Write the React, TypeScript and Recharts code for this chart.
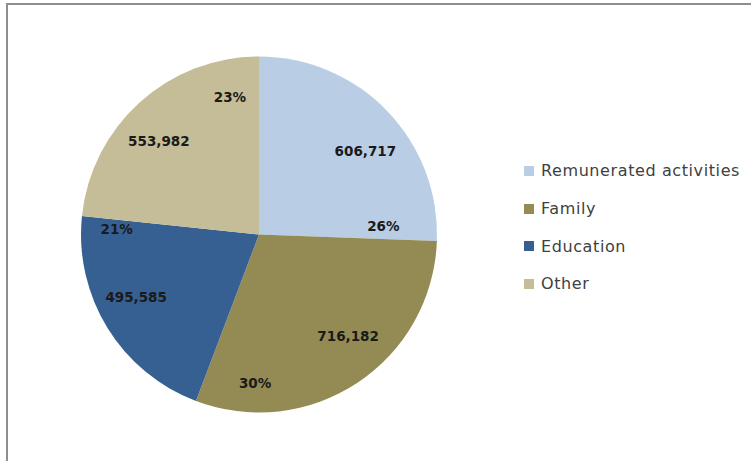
import React from "react";
import { PieChart, Pie, Cell, Legend } from "recharts";

const categories = ["Remunerated activities", "Family", "Education", "Other"];
const values = [606717, 716182, 495585, 553982];
const COLORS = ["#B9CDE5", "#948A54", "#376092", "#C4BD97"];

// where Excel dropped the two labels of each slice: angle offset from the
// slice middle (degrees) and radius as a fraction of the pie radius
const VALUE_LABEL_POS = [
  { da: -5.8, r: 0.76 },
  { da: 7.6, r: 0.76 },
  { da: -4.6, r: 0.775 },
  { da: 4.9, r: 0.77 },
];
const PCT_LABEL_POS = [
  { da: -40.1, r: 0.7 },
  { da: -35.1, r: 0.835 },
  { da: -33.9, r: 0.8 },
  { da: -30.1, r: 0.79 },
];

const data = categories.map((name, i) => ({ name, value: values[i] }));

const RAD = Math.PI / 180;
const labelFont = "'DejaVu Sans', sans-serif";

const renderLabel = (props: any) => {
  const { cx, cy, midAngle, outerRadius, index, value, percent } = props;
  const v = VALUE_LABEL_POS[index];
  const p = PCT_LABEL_POS[index];
  const va = midAngle + v.da;
  const pa = midAngle + p.da;
  const vx = cx + outerRadius * v.r * Math.cos(-va * RAD);
  const vy = cy + outerRadius * v.r * Math.sin(-va * RAD);
  const px = cx + outerRadius * p.r * Math.cos(-pa * RAD);
  const py = cy + outerRadius * p.r * Math.sin(-pa * RAD);
  return (
    <g>
      <text
        x={vx}
        y={vy}
        textAnchor="middle"
        dominantBaseline="central"
        fill="#1a1a1a"
        fontFamily={labelFont}
        fontWeight="bold"
        fontSize={13.5}
      >
        {value.toLocaleString("en-US")}
      </text>
      <text
        x={px}
        y={py}
        textAnchor="middle"
        dominantBaseline="central"
        fill="#1a1a1a"
        fontFamily={labelFont}
        fontWeight="bold"
        fontSize={13.5}
      >
        {Math.round(percent * 100)}%
      </text>
    </g>
  );
};

const renderLegend = () => (
  <div>
    {categories.map((name, i) => (
      <div
        key={name}
        style={{
          display: "flex",
          alignItems: "center",
          height: 37.7,
          fontFamily: "'DejaVu Sans', sans-serif",
          fontSize: 16,
          letterSpacing: 0.6,
          color: "#404040",
          whiteSpace: "nowrap",
        }}
      >
        <span
          style={{
            display: "inline-block",
            width: 10,
            height: 10,
            background: COLORS[i],
            marginRight: 7,
          }}
        />
        {name}
      </div>
    ))}
  </div>
);

export default function App() {
  return (
    <div
      style={{
        position: "absolute",
        left: 0,
        top: 0,
        width: 751,
        height: 461,
        background: "#fff",
      }}
    >
      <div
        style={{
          position: "absolute",
          left: 6,
          top: 3,
          width: 745,
          height: 458,
          borderTop: "2px solid #8e8e8e",
          borderLeft: "2px solid #8e8e8e",
        }}
      />
      <PieChart
        width={751}
        height={461}
        margin={{ top: 0, right: 0, bottom: 0, left: 0 }}
        style={{ position: "absolute", left: 0, top: 0 }}
      >
        <Pie
          data={data}
          dataKey="value"
          nameKey="name"
          cx={259}
          cy={234.5}
          outerRadius={178}
          startAngle={90}
          endAngle={-270}
          stroke="none"
          label={renderLabel}
          labelLine={false}
          isAnimationActive={false}
        >
          {data.map((entry, index) => (
            <Cell key={`cell-${index}`} fill={COLORS[index % COLORS.length]} />
          ))}
        </Pie>
        <Legend
          content={renderLegend}
          wrapperStyle={{ left: 524, top: 152, width: 227 }}
        />
      </PieChart>
    </div>
  );
}
